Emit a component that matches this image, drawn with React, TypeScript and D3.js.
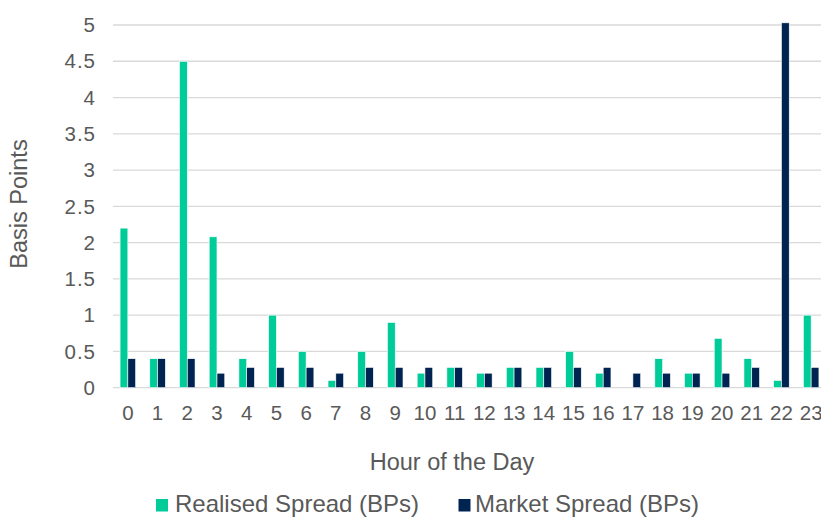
import React from "react";
import * as d3 from "d3";

const hours = Array.from({ length: 24 }, (_, i) => String(i));
const realised = [2.2, 0.4, 4.5, 2.08, 0.4, 1.0, 0.5, 0.1, 0.5, 0.9, 0.2, 0.28, 0.2, 0.28, 0.28, 0.5, 0.2, 0, 0.4, 0.2, 0.68, 0.4, 0.1, 1.0];
const market = [0.4, 0.4, 0.4, 0.2, 0.28, 0.28, 0.28, 0.2, 0.28, 0.28, 0.28, 0.28, 0.2, 0.28, 0.28, 0.28, 0.28, 0.2, 0.2, 0.2, 0.2, 0.28, 5.03, 0.28];
const yTicks = [0, 0.5, 1, 1.5, 2, 2.5, 3, 3.5, 4, 4.5, 5];
const seriesNames = ["Realised Spread (BPs)", "Market Spread (BPs)"];
const colors = ["#00CC99", "#002451"];

export default function App() {
  const W = 821;
  const H = 519;
  const x = d3.scaleBand<string>().domain(hours).range([113, 826]).paddingInner(0).paddingOuter(0);
  const y = d3.scaleLinear().domain([0, 5]).range([387.7, 25]);
  const bw = x.bandwidth() * 0.262;
  const font = "Liberation Sans, Arial, sans-serif";
  const txt = "#595959";

  return (
    <svg width={W} height={H} style={{ position: "absolute", left: 0, top: 0, background: "#fff" }} fontFamily={font}>
      {yTicks.map((t) => (
        <g key={t}>
          <line x1={113} x2={W} y1={y(t)} y2={y(t)} stroke="#d9d9d9" strokeWidth={1.3} />
          <text x={96} y={y(t)} dy="0.35em" textAnchor="end" fontSize={20.5} letterSpacing={1} fill={txt}>
            {String(t)}
          </text>
        </g>
      ))}
      {hours.map((h, i) => {
        const c = (x(h) as number) + x.bandwidth() / 2;
        return (
          <g key={h}>
            {realised[i] > 0 && (
              <rect x={c - bw} y={y(realised[i])} width={bw} height={y(0) - y(realised[i])} fill={colors[0]} stroke="#ffffff" strokeWidth={0.6} />
            )}
            <rect x={c} y={y(market[i])} width={bw} height={y(0) - y(market[i])} fill={colors[1]} stroke="#ffffff" strokeWidth={0.6} />
            <text x={c} y={420} textAnchor="middle" fontSize={20.5} fill={txt}>
              {h}
            </text>
          </g>
        );
      })}
      <text transform="translate(27,204) rotate(-90)" textAnchor="middle" fontSize={23.5} fill={txt}>
        Basis Points
      </text>
      <text x={452} y={470} textAnchor="middle" fontSize={23.5} fill={txt}>
        Hour of the Day
      </text>
      <g>
        <rect x={156} y={499} width={12} height={12.5} fill={colors[0]} />
        <text x={175} y={512} fontSize={24} fill={txt}>{seriesNames[0]}</text>
        <rect x={458.5} y={499} width={12} height={12.5} fill={colors[1]} />
        <text x={475} y={512} fontSize={24} fill={txt}>{seriesNames[1]}</text>
      </g>
    </svg>
  );
}
